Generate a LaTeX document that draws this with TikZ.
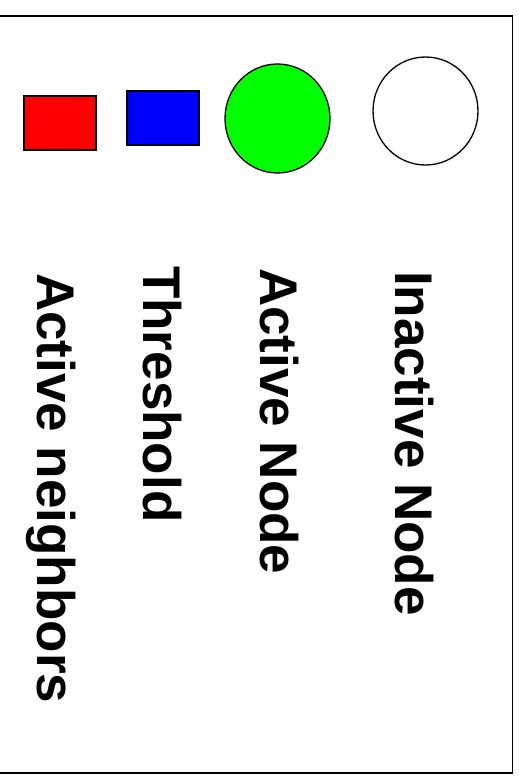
\documentclass[tikz,border=0pt]{standalone}
\usepackage{fontspec}
\setmainfont{Liberation Sans}
\usetikzlibrary{shapes.geometric}
\begin{document}
\begin{tikzpicture}[x=1pt,y=-1pt,
  legtext/.style={rotate=-90,anchor=base west,inner sep=0pt,font=\fontsize{53}{60}\selectfont\bfseries},
  legshape/.style={draw=black,line width=1.3pt,inner sep=0pt}]
\useasboundingbox (0,0) rectangle (519,779);
\draw[line width=1.8pt] (-5,16) -- (512.5,16) -- (512.5,773) -- (-5,773);
\node[legshape,ellipse,fill=white,minimum width=105pt,minimum height=108pt] (inact) at (425.5,111) {};
\node[legshape,ellipse,fill=green,minimum width=105pt,minimum height=109pt] (act) at (277.5,118.5) {};
\node[legshape,rectangle,fill=blue,minimum width=72pt,minimum height=54pt] (thr) at (163,118) {};
\node[legshape,rectangle,fill=red,minimum width=72pt,minimum height=54pt] (nbr) at (60,123) {};
\node[legtext] (tinact) at (395,271) {Inactive Node};
\node[legtext] (tact) at (260,268) {Active Node};
\node[legtext] (tthr) at (143,266) {Threshold};
\node[legtext] (tnbr) at (37,273) {Active neighbors};
\end{tikzpicture}
\end{document}
